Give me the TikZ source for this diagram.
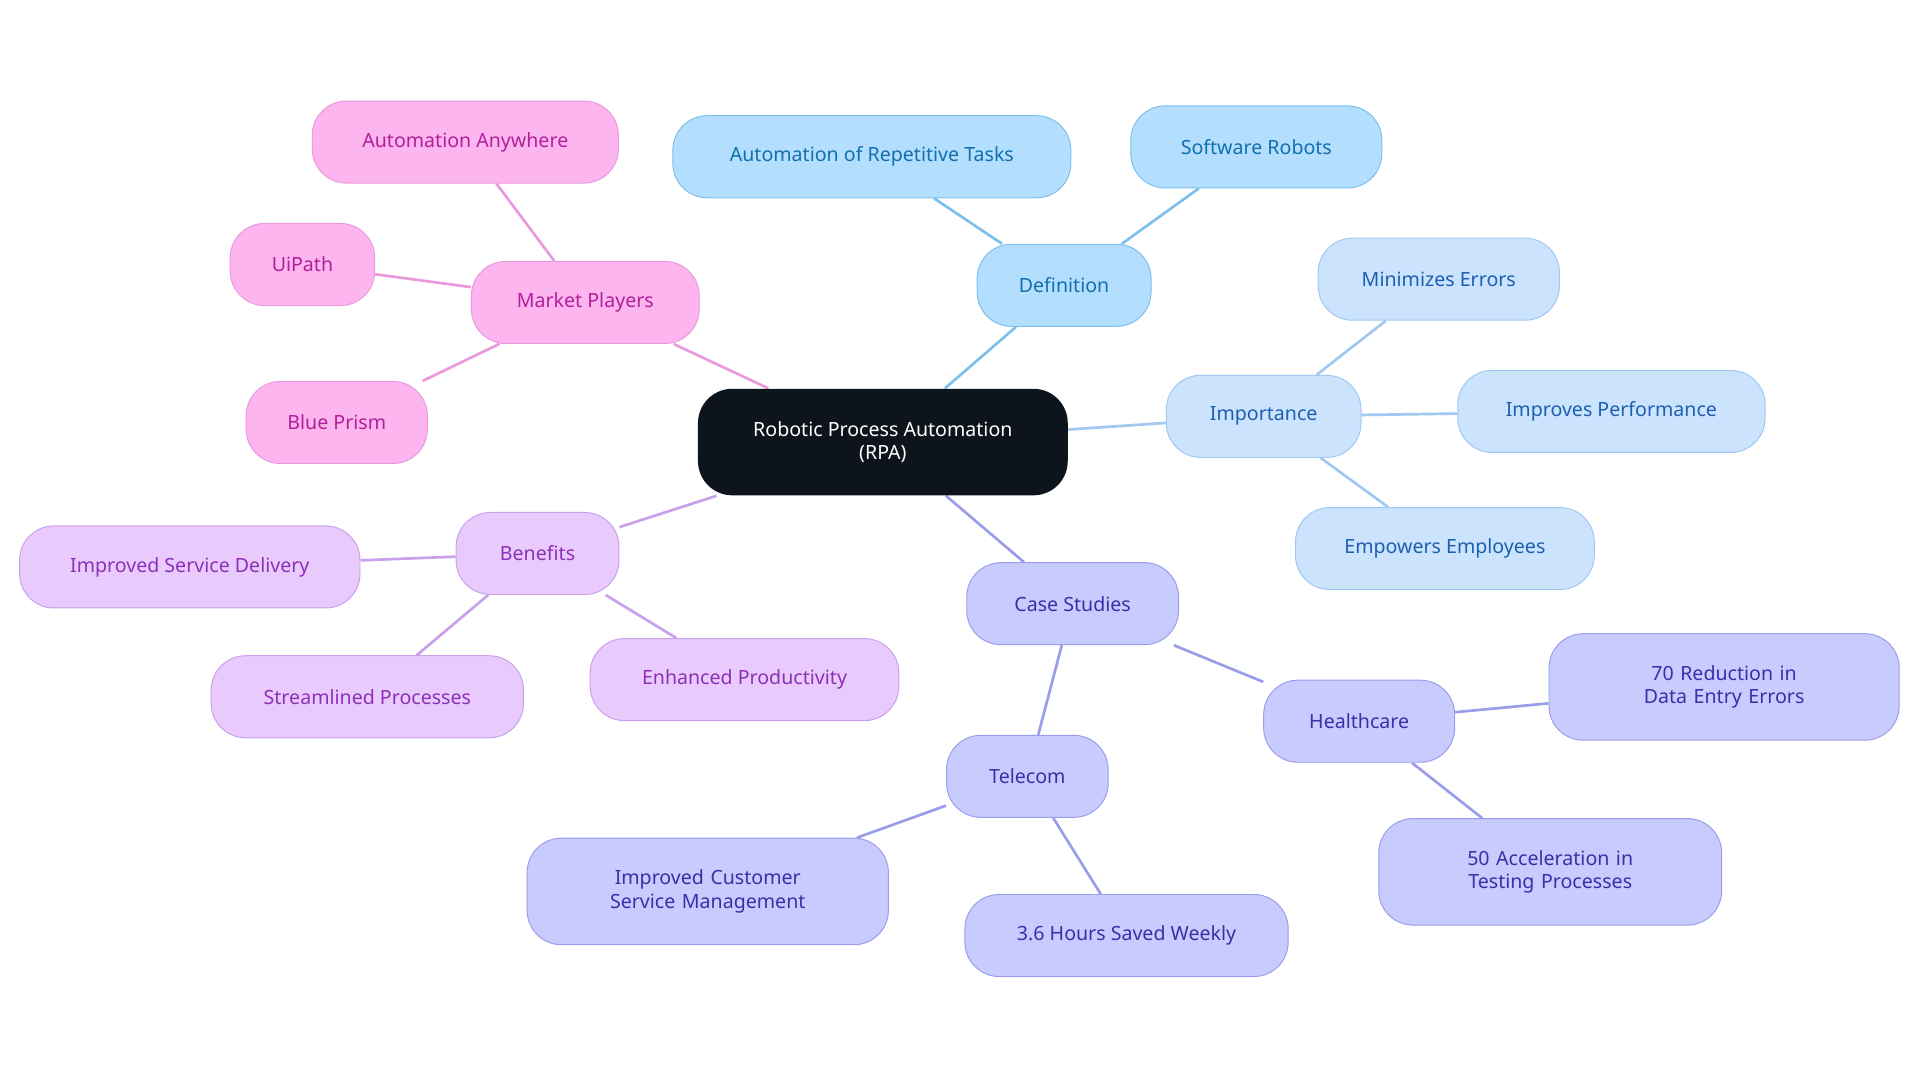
\documentclass[tikz,border=0pt]{standalone}
\usepackage{fontspec}
\setmainfont{Noto Sans}
\usetikzlibrary{backgrounds}
\definecolor{rootFill}{HTML}{0D141B}
\definecolor{defFill}{HTML}{B3DEFD}\definecolor{defLine}{HTML}{7CC0EB}\definecolor{defText}{HTML}{1070B0}
\definecolor{impFill}{HTML}{CCE3FD}\definecolor{impLine}{HTML}{A0C8F0}\definecolor{impText}{HTML}{1D5FB0}
\definecolor{caseFill}{HTML}{C8CBFE}\definecolor{caseLine}{HTML}{9A9DEA}\definecolor{caseText}{HTML}{3A2FA8}
\definecolor{benFill}{HTML}{E8CBFC}\definecolor{benLine}{HTML}{C9A0EC}\definecolor{benText}{HTML}{8E2FB8}
\definecolor{mktFill}{HTML}{FDB5F0}\definecolor{mktLine}{HTML}{E89ADC}\definecolor{mktText}{HTML}{B0209A}
\tikzset{
  box/.style={rounded corners=28pt, minimum height=67pt, align=center, line width=0.8pt,
    font=\fontsize{16}{19}\selectfont, inner xsep=10pt},
  def/.style={box, fill=defFill, draw=defLine, text=defText},
  imp/.style={box, fill=impFill, draw=impLine, text=impText},
  case/.style={box, fill=caseFill, draw=caseLine, text=caseText},
  ben/.style={box, fill=benFill, draw=benLine, text=benText},
  mkt/.style={box, fill=mktFill, draw=mktLine, text=mktText},
  link/.style={line width=2.2pt}
}
\begin{document}
\begin{tikzpicture}[x=1pt,y=-1pt]
\useasboundingbox (0,0) rectangle (1568,884);

\node[box, fill=rootFill, text=white, minimum width=302pt, minimum height=87pt] (rpa) at (721,361) {Robotic Process Automation\\(RPA)};

% definition
\node[def, minimum width=142pt] (def) at (869,233) {Definition};
\node[def, minimum width=325pt] (rep) at (712,128) {Automation of Repetitive Tasks};
\node[def, minimum width=205pt] (robots) at (1026,120) {Software Robots};

% importance
\node[imp, minimum width=159pt] (imp) at (1032,340) {Importance};
\node[imp, minimum width=197pt] (errors) at (1175,228) {Minimizes Errors};
\node[imp, minimum width=251pt] (perf) at (1316,336) {Improves Performance};
\node[imp, minimum width=244pt] (empl) at (1180,448) {Empowers Employees};

% case studies
\node[case, minimum width=173pt] (cases) at (876,493) {Case Studies};
\node[case, minimum width=156pt] (health) at (1110,589) {Healthcare};
\node[case, minimum width=286pt, minimum height=87pt, text width=250pt] (data) at (1408,561) {70 Reduction in Data Entry Errors};
\node[case, minimum width=280pt, minimum height=87pt, text width=250pt] (testing) at (1266,712) {50 Acceleration in Testing Processes};
\node[case, minimum width=132pt] (telecom) at (839,634) {Telecom};
\node[case, minimum width=295pt, minimum height=87pt, text width=260pt] (service) at (578,728) {Improved Customer Service Management};
\node[case, minimum width=264pt] (hours) at (920,764) {3.6 Hours Saved Weekly};

% benefits
\node[ben, minimum width=133pt] (ben) at (439,452) {Benefits};
\node[ben, minimum width=278pt] (delivery) at (155,463) {Improved Service Delivery};
\node[ben, minimum width=255pt] (stream) at (300,569) {Streamlined Processes};
\node[ben, minimum width=252pt] (prod) at (608,555) {Enhanced Productivity};

% market players
\node[mkt, minimum width=186pt] (mkt) at (478,247) {Market Players};
\node[mkt, minimum width=250pt] (aa) at (380,116) {Automation Anywhere};
\node[mkt, minimum width=118pt] (uipath) at (247,216) {UiPath};
\node[mkt, minimum width=148pt] (prism) at (275,345) {Blue Prism};

\begin{scope}[on background layer]
\draw[link, defLine] (rpa) -- (def) (def) -- (rep) (def) -- (robots);
\draw[link, impLine] (rpa) -- (imp) (imp) -- (errors) (imp) -- (perf) (imp) -- (empl);
\draw[link, caseLine] (rpa) -- (cases) (cases) -- (health) (health) -- (data) (health) -- (testing)
  (cases) -- (telecom) (telecom) -- (service) (telecom) -- (hours);
\draw[link, benLine] (rpa) -- (ben) (ben) -- (delivery) (ben) -- (stream) (ben) -- (prod);
\draw[link, mktLine] (rpa) -- (mkt) (mkt) -- (aa) (mkt) -- (uipath) (mkt) -- (prism);
\end{scope}
\end{tikzpicture}
\end{document}
